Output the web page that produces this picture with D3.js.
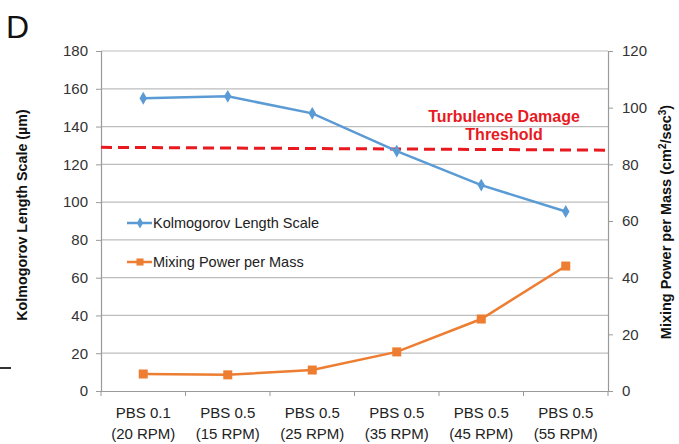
<!DOCTYPE html>
<html>
<head>
<meta charset="utf-8">
<script src="https://cdn.jsdelivr.net/npm/d3@7/dist/d3.min.js"></script>
<style>
  html, body { margin: 0; padding: 0; background: #fff; }
  svg { display: block; font-family: "Liberation Sans", Arial, Helvetica, sans-serif; }
</style>
</head>
<body>
<svg id="chart" width="679" height="444"></svg>
<script>
// Conditions along the x axis (two-line labels)
const categories = ["PBS 0.1|(20 RPM)", "PBS 0.5|(15 RPM)", "PBS 0.5|(25 RPM)", "PBS 0.5|(35 RPM)", "PBS 0.5|(45 RPM)", "PBS 0.5|(55 RPM)"];
// Kolmogorov length scale, µm (left axis)
const kolmogorov = [155, 156, 147, 127, 109, 95];
// Mixing power per mass, cm²/sec³ (right axis)
const mixingPower = [6.0, 5.7, 7.4, 13.8, 25.4, 44.1];
// Damage threshold line, left-axis units at its two ends
const threshold = [129, 127.5];
const leftTicks = [0, 20, 40, 60, 80, 100, 120, 140, 160, 180];
const rightTicks = [0, 20, 40, 60, 80, 100, 120];

const svg = d3.select("#chart");
const m = { left: 101, right: 608, top: 51, bottom: 391 };

const x = d3.scaleBand().domain(categories).range([m.left, m.right]);
const yL = d3.scaleLinear().domain([0, 180]).range([m.bottom, m.top]);
const yR = d3.scaleLinear().domain([0, 120]).range([m.bottom, m.top]);
const cx = d => x(d) + x.bandwidth() / 2;

const blue = "#5b9bd5", orange = "#ed7d31", red = "#e8191f";

// Horizontal gridlines
svg.append("g").selectAll("line").data(leftTicks.filter(t => t > 0)).join("line")
  .attr("x1", m.left).attr("x2", m.right)
  .attr("y1", d => yL(d)).attr("y2", d => yL(d))
  .attr("stroke", "#bdbdbd").attr("stroke-width", 1.2);

// Left axis
const axL = svg.append("g").attr("transform", `translate(${m.left},0)`)
  .call(d3.axisLeft(yL).tickValues(leftTicks).tickSize(5).tickPadding(8));
// Right axis
const axR = svg.append("g").attr("transform", `translate(${m.right},0)`)
  .call(d3.axisRight(yR).tickValues(rightTicks).tickSize(5).tickPadding(9));
// Bottom axis with ticks at category boundaries
const axB = svg.append("g").attr("transform", `translate(0,${m.bottom})`)
  .call(d3.axisBottom(x).tickSize(0).tickFormat(""));
axB.selectAll(".bound").data(d3.range(categories.length + 1)).join("line")
  .attr("class", "bound")
  .attr("x1", i => m.left + i * x.bandwidth()).attr("x2", i => m.left + i * x.bandwidth())
  .attr("y1", 0).attr("y2", 5).attr("stroke", "#999");

[axL, axR, axB].forEach(a => {
  a.select(".domain").attr("stroke", "#9a9a9a").attr("stroke-width", 1.2);
  a.selectAll(".tick line").attr("stroke", "#9a9a9a");
  a.selectAll("text").attr("font-size", 15).attr("fill", "#333")
    .attr("font-family", "'Liberation Sans', Arial, sans-serif");
});

// Category labels
const lab = svg.append("g").selectAll("text").data(categories).join("text")
  .attr("x", d => cx(d)).attr("text-anchor", "middle")
  .attr("font-size", 15).attr("fill", "#222");
lab.append("tspan").attr("x", d => cx(d)).attr("y", 418).text(d => d.split("|")[0]);
lab.append("tspan").attr("x", d => cx(d)).attr("y", 439).text(d => d.split("|")[1]);

// Threshold dashed line
svg.append("line")
  .attr("x1", m.left).attr("x2", m.right)
  .attr("y1", yL(threshold[0])).attr("y2", yL(threshold[1]))
  .attr("stroke", red).attr("stroke-width", 3).attr("stroke-dasharray", "11,6");

const thr = svg.append("text").attr("text-anchor", "middle")
  .attr("font-size", 16).attr("font-weight", "bold").attr("fill", red);
thr.append("tspan").attr("x", 504).attr("y", 122).text("Turbulence Damage");
thr.append("tspan").attr("x", 504).attr("y", 140).text("Threshold");

// Kolmogorov series
svg.append("path").datum(kolmogorov)
  .attr("fill", "none").attr("stroke", blue).attr("stroke-width", 2.5)
  .attr("d", d3.line().x((d, i) => cx(categories[i])).y(d => yL(d)));
svg.append("g").selectAll("path").data(kolmogorov).join("path")
  .attr("d", d3.symbol(d3.symbolDiamond, 48))
  .attr("transform", (d, i) => `translate(${cx(categories[i])},${yL(d)})`)
  .attr("fill", blue);

// Mixing power series
svg.append("path").datum(mixingPower)
  .attr("fill", "none").attr("stroke", orange).attr("stroke-width", 2.5)
  .attr("d", d3.line().x((d, i) => cx(categories[i])).y(d => yR(d)));
svg.append("g").selectAll("rect").data(mixingPower).join("rect")
  .attr("x", (d, i) => cx(categories[i]) - 4.5).attr("y", d => yR(d) - 4.5)
  .attr("width", 9).attr("height", 9).attr("fill", orange);

// Legend
const legend = [
  { name: "Kolmogorov Length Scale", color: blue, y: 223, shape: "diamond" },
  { name: "Mixing Power per Mass", color: orange, y: 262, shape: "square" }
];
const lg = svg.append("g").selectAll("g").data(legend).join("g");
lg.append("line").attr("x1", 127).attr("x2", 152).attr("y1", d => d.y).attr("y2", d => d.y)
  .attr("stroke", d => d.color).attr("stroke-width", 2.5);
lg.append("path")
  .attr("d", d => d.shape === "diamond" ? d3.symbol(d3.symbolDiamond, 34)() : d3.symbol(d3.symbolSquare, 50)())
  .attr("transform", d => `translate(140,${d.y})`).attr("fill", d => d.color);
lg.append("text").attr("x", 153).attr("y", d => d.y + 5)
  .attr("font-size", 14.5).attr("fill", "#222").text(d => d.name);

// Axis titles
svg.append("text").attr("transform", "translate(27,215) rotate(-90)")
  .attr("text-anchor", "middle").attr("font-size", 14.3).attr("font-weight", "bold").attr("fill", "#111")
  .text("Kolmogorov Length Scale (µm)");
const rt = svg.append("text").attr("transform", "translate(671,222) rotate(-90)")
  .attr("text-anchor", "middle").attr("font-size", 14.5).attr("font-weight", "bold").attr("fill", "#111");
rt.append("tspan").text("Mixing Power per Mass (cm");
rt.append("tspan").attr("font-size", 10).attr("dy", -5).text("2");
rt.append("tspan").attr("dy", 5).text("/sec");
rt.append("tspan").attr("font-size", 10).attr("dy", -5).text("3");
rt.append("tspan").attr("dy", 5).text(")");

// Panel letter
svg.append("text").attr("x", 6).attr("y", 38).attr("font-size", 32).attr("fill", "#111").text("D");

// Short stray rule at left edge
svg.append("line").attr("x1", 0).attr("x2", 11).attr("y1", 368).attr("y2", 368)
  .attr("stroke", "#333").attr("stroke-width", 2);
</script>
</body>
</html>
